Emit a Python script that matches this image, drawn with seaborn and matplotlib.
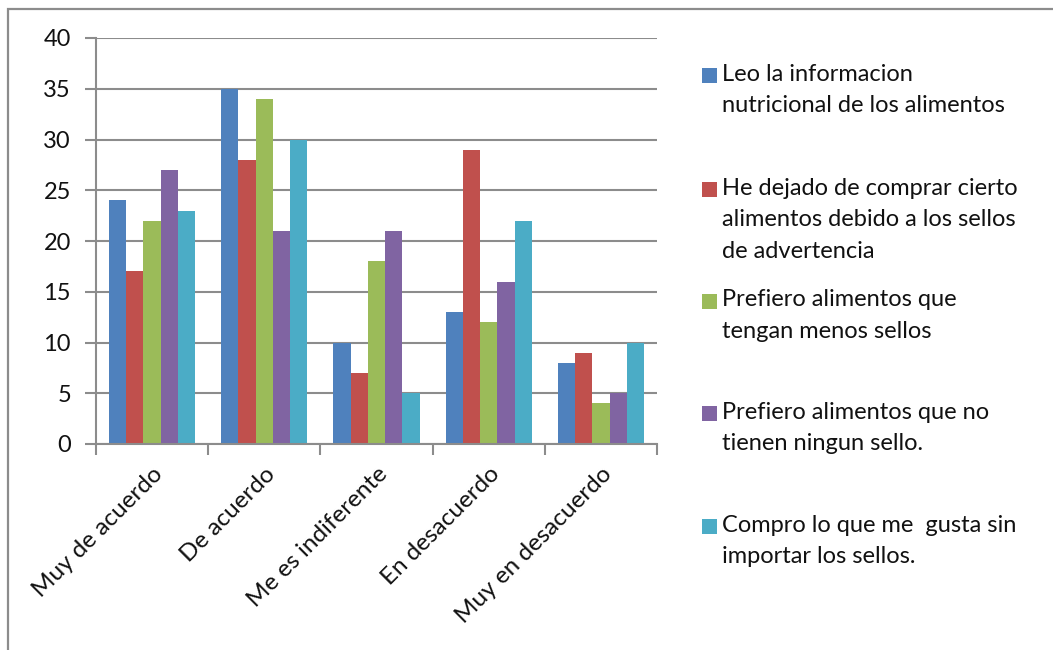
import matplotlib
matplotlib.use("Agg")
import matplotlib.pyplot as plt
from matplotlib.patches import Rectangle
import seaborn as sns
import pandas as pd

categories = ["Muy de acuerdo", "De acuerdo", "Me es indiferente", "En desacuerdo", "Muy en desacuerdo"]
series_names = [
    "Leo la informacion\nnutricional de los alimentos",
    "He dejado de comprar cierto\nalimentos debido a los sellos\nde advertencia",
    "Prefiero alimentos que\ntengan menos sellos",
    "Prefiero alimentos que no\ntienen ningun sello.",
    "Compro lo que me  gusta sin\nimportar los sellos.",
]
leo = [24, 35, 10, 13, 8]
dejado = [17, 28, 7, 29, 9]
menos_sellos = [22, 34, 18, 12, 4]
ningun_sello = [27, 21, 21, 16, 5]
compro = [23, 30, 5, 22, 10]
y_ticks = [0, 5, 10, 15, 20, 25, 30, 35, 40]

colors = ["#4F81BD", "#C0504D", "#9BBB59", "#8064A2", "#4BACC6"]

values = [leo, dejado, menos_sellos, ningun_sello, compro]
rows = []
for name, vals in zip(series_names, values):
    for cat, v in zip(categories, vals):
        rows.append({"categoria": cat, "serie": name, "valor": v})
df = pd.DataFrame(rows)

sns.set_theme(style="white")
plt.rcParams["font.family"] = ["Lato", "DejaVu Sans"]

fig = plt.figure(figsize=(10.53, 6.5), dpi=100)
ax = fig.add_axes([96 / 1053, 1 - 444 / 650, (657 - 96) / 1053, (444 - 38) / 650])

sns.barplot(data=df, x="categoria", y="valor", hue="serie", order=categories,
            hue_order=series_names, palette=colors, width=0.77, saturation=1,
            legend=False, ax=ax, linewidth=0)

grid_c = "#8C8C8C"
txt_c = "#111111"
ax.set_ylim(0, 40)
ax.set_xlim(-0.5, len(categories) - 0.5)
ax.set_yticks(y_ticks)
ax.set_yticklabels([str(t) for t in y_ticks])
ax.yaxis.grid(True, color=grid_c, linewidth=1.5)
ax.set_axisbelow(True)
ax.set_xlabel("")
ax.set_ylabel("")

for side in ["top", "right"]:
    ax.spines[side].set_visible(False)
for side in ["left", "bottom"]:
    ax.spines[side].set_color(grid_c)
    ax.spines[side].set_linewidth(1.5)

ax.tick_params(axis="y", which="major", left=True, length=8, width=1.5, color=grid_c,
               pad=10, labelsize=17, labelcolor=txt_c)
ax.set_xticks(range(len(categories)))
ax.set_xticklabels(categories, rotation=45, ha="right", rotation_mode="anchor",
                   fontsize=17.5, color=txt_c)
ax.tick_params(axis="x", which="major", bottom=False, length=0, pad=14)
ax.set_xticks([i - 0.5 for i in range(len(categories) + 1)], minor=True)
ax.tick_params(axis="x", which="minor", bottom=True, length=8, width=1.5, color=grid_c)

# Legend drawn as swatches with multi-line captions, evenly spaced
first_baselines = [81.7, 195.7, 307, 419.3, 532]
for name, col, yb in zip(series_names, colors, first_baselines):
    fig.patches.append(Rectangle((702 / 1053, 1 - (yb + 1.5) / 650), 15 / 1053, 15 / 650,
                                 transform=fig.transFigure, facecolor=col,
                                 edgecolor="none"))
    fig.text(722 / 1053, 1 - (yb - 17.5) / 650, name, ha="left", va="top",
             fontsize=17, color=txt_c, linespacing=1.6)

# Chart frame
fig.patches.append(Rectangle((8 / 1053, -0.05), 1.2, 1.05 - 9 / 650,
                             transform=fig.transFigure, facecolor="none",
                             edgecolor="#8C8C8C", linewidth=1.6))

fig.savefig("out.png", dpi=100)
